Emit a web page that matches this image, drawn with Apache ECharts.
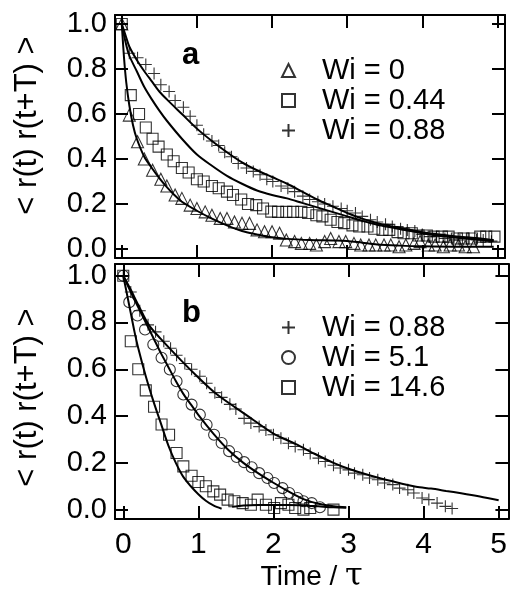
<!DOCTYPE html>
<html lang="en">
<head>
<meta charset="UTF-8">
<title>Correlation</title>
<script src="https://cdn.jsdelivr.net/npm/echarts@6/dist/echarts.min.js"></script>
<style>
    html, body { margin: 0; padding: 0; background: #fff; }
    #main { width: 510px; height: 595px; }
</style>
</head>
<body>
<div id="main"></div>
<script>
// ticks
var xTicks = [0, 1, 2, 3, 4, 5];
var yTicks = [0, 0.2, 0.4, 0.6, 0.8, 1.0];

// panel a: data points [time, corr]
var aWi0 = [[0,1.0],[0.10,0.595],[0.21,0.477],[0.30,0.40],[0.41,0.35],[0.52,0.31],[0.60,0.28],[0.71,0.24],[0.80,0.225],[0.91,0.195],[1.00,0.18],[1.11,0.165],[1.20,0.15],[1.31,0.136],[1.40,0.136],[1.50,0.12],[1.60,0.114],[1.70,0.114],[1.80,0.085],[1.90,0.077],[2.00,0.077],[2.10,0.07],[2.19,0.04],[2.30,0.033],[2.39,0.025],[2.50,0.025],[2.59,0.018],[2.70,0.033],[2.78,0.047],[2.89,0.033],[2.98,0.033],[3.09,0.025],[3.18,0.018],[3.29,0.018],[3.38,0.018],[3.49,0.018],[3.58,0.018],[3.69,0.01],[3.78,0.018],[3.89,0.025],[3.97,0.033],[4.08,0.018],[4.17,0.018],[4.28,0.01],[4.37,0.018],[4.48,0.018],[4.57,0.01],[4.68,0.01]];
var aWi044 = [[0,1.0],[0.12,0.684],[0.23,0.60],[0.32,0.54],[0.41,0.49],[0.49,0.455],[0.60,0.42],[0.69,0.39],[0.80,0.36],[0.89,0.34],[1.00,0.31],[1.09,0.30],[1.20,0.28],[1.29,0.27],[1.40,0.255],[1.48,0.24],[1.59,0.22],[1.68,0.20],[1.79,0.195],[1.88,0.18],[1.99,0.166],[2.08,0.165],[2.19,0.165],[2.28,0.165],[2.39,0.165],[2.48,0.16],[2.59,0.15],[2.67,0.145],[2.78,0.13],[2.87,0.12],[2.96,0.115],[3.07,0.105],[3.16,0.10],[3.27,0.10],[3.36,0.09],[3.47,0.085],[3.56,0.085],[3.67,0.075],[3.75,0.07],[3.86,0.07],[3.95,0.06],[4.06,0.06],[4.15,0.055],[4.26,0.055],[4.35,0.055],[4.46,0.047],[4.55,0.047],[4.66,0.047],[4.77,0.055],[4.85,0.055],[4.96,0.055]];
var aWi088 = [[0,1.0],[0.10,0.87],[0.21,0.85],[0.32,0.82],[0.43,0.78],[0.52,0.73],[0.63,0.70],[0.71,0.66],[0.82,0.63],[0.91,0.59],[1.00,0.55],[1.09,0.51],[1.20,0.48],[1.29,0.46],[1.37,0.43],[1.46,0.41],[1.55,0.38],[1.66,0.36],[1.75,0.345],[1.84,0.33],[1.93,0.31],[2.01,0.30],[2.12,0.28],[2.21,0.27],[2.30,0.255],[2.41,0.235],[2.50,0.22],[2.61,0.21],[2.70,0.20],[2.81,0.19],[2.92,0.18],[3.00,0.17],[3.11,0.16],[3.20,0.145],[3.31,0.13],[3.40,0.12],[3.51,0.11],[3.60,0.10],[3.71,0.09],[3.80,0.085],[3.90,0.08],[4.00,0.065],[4.10,0.055],[4.19,0.055],[4.30,0.047],[4.41,0.04],[4.50,0.04],[4.61,0.047],[4.72,0.04],[4.81,0.04],[4.92,0.035]];

// panel a: fitted curves
var aFit0 = [[0,1],[0.03,0.85],[0.06,0.74],[0.1,0.64],[0.15,0.55],[0.2,0.49],[0.3,0.41],[0.4,0.36],[0.5,0.315],[0.6,0.275],[0.7,0.24],[0.8,0.21],[1.0,0.17],[1.2,0.135],[1.4,0.105],[1.6,0.08],[1.8,0.065],[2.0,0.052],[2.2,0.045],[2.5,0.04],[2.8,0.038],[3.0,0.036],[3.2,0.028],[3.4,0.02],[3.7,0.015],[4.0,0.012],[4.5,0.01],[4.95,0.01]];
var aFit044 = [[0,1],[0.05,0.92],[0.1,0.86],[0.2,0.79],[0.3,0.72],[0.4,0.665],[0.5,0.615],[0.6,0.57],[0.8,0.49],[1.0,0.42],[1.2,0.37],[1.4,0.325],[1.6,0.29],[1.8,0.26],[2.0,0.24],[2.2,0.225],[2.4,0.205],[2.6,0.185],[2.8,0.165],[3.0,0.145],[3.2,0.125],[3.4,0.108],[3.6,0.095],[3.8,0.082],[4.0,0.07],[4.2,0.06],[4.4,0.052],[4.6,0.046],[4.8,0.04],[4.95,0.035]];
var aFit088 = [[0,1],[0.05,0.95],[0.1,0.9],[0.2,0.84],[0.3,0.79],[0.4,0.745],[0.5,0.70],[0.6,0.665],[0.8,0.6],[1.0,0.535],[1.2,0.48],[1.4,0.43],[1.6,0.385],[1.8,0.35],[2.0,0.32],[2.2,0.29],[2.4,0.255],[2.6,0.22],[2.8,0.19],[3.0,0.16],[3.2,0.135],[3.4,0.115],[3.6,0.1],[3.8,0.088],[4.0,0.075],[4.2,0.066],[4.4,0.058],[4.6,0.052],[4.8,0.046],[4.95,0.04]];

// panel b: data points
var bWi088 = [[0,1.0],[0.10,0.93],[0.22,0.85],[0.33,0.79],[0.43,0.76],[0.54,0.72],[0.63,0.69],[0.71,0.66],[0.82,0.625],[0.91,0.60],[1.02,0.57],[1.11,0.54],[1.22,0.50],[1.31,0.48],[1.42,0.45],[1.50,0.43],[1.61,0.39],[1.70,0.37],[1.81,0.355],[1.90,0.34],[2.00,0.32],[2.10,0.305],[2.20,0.284],[2.29,0.27],[2.40,0.256],[2.49,0.24],[2.60,0.22],[2.69,0.206],[2.80,0.19],[2.89,0.178],[3.00,0.17],[3.08,0.156],[3.19,0.149],[3.28,0.135],[3.39,0.128],[3.48,0.114],[3.59,0.107],[3.68,0.092],[3.79,0.085],[3.87,0.071],[3.98,0.05],[4.07,0.043],[4.18,0.028],[4.29,0.014],[4.38,0.005]];
var bWi51 = [[0,1.0],[0.08,0.887],[0.19,0.83],[0.29,0.77],[0.40,0.706],[0.51,0.649],[0.62,0.599],[0.71,0.549],[0.80,0.492],[0.91,0.449],[1.02,0.406],[1.11,0.363],[1.21,0.32],[1.31,0.285],[1.41,0.25],[1.51,0.225],[1.61,0.203],[1.71,0.181],[1.81,0.156],[1.92,0.135],[2.01,0.114],[2.12,0.092],[2.21,0.071],[2.32,0.05],[2.40,0.036],[2.51,0.028],[2.62,0.01]];
var bWi146 = [[0,1.0],[0.10,0.72],[0.20,0.60],[0.30,0.51],[0.41,0.44],[0.51,0.364],[0.61,0.32],[0.71,0.242],[0.80,0.185],[0.91,0.145],[1.00,0.118],[1.10,0.10],[1.20,0.078],[1.29,0.064],[1.39,0.043],[1.48,0.036],[1.59,0.028],[1.70,0.021],[1.79,0.043],[1.90,0.021],[2.01,0.007],[2.10,0.028],[2.20,0.021],[2.29,0.007],[2.40,0.0],[2.49,0.007],[2.80,0.0]];

// panel b: fitted curves
var bFit088 = [[0,1],[0.1,0.94],[0.2,0.875],[0.34,0.79],[0.5,0.73],[0.78,0.635],[1.0,0.565],[1.22,0.5],[1.5,0.435],[1.66,0.4],[2.0,0.325],[2.3,0.28],[2.54,0.24],[2.8,0.2],[3.0,0.175],[3.3,0.145],[3.6,0.12],[3.9,0.098],[4.1,0.09],[4.3,0.08],[4.5,0.07],[4.75,0.056],[5.0,0.04]];
var bFit51 = [[0,1],[0.1,0.93],[0.2,0.865],[0.3,0.8],[0.4,0.735],[0.5,0.67],[0.6,0.61],[0.7,0.55],[0.8,0.495],[0.9,0.45],[1.0,0.405],[1.2,0.325],[1.4,0.255],[1.6,0.2],[1.8,0.155],[2.0,0.115],[2.2,0.078],[2.4,0.045],[2.6,0.025],[2.8,0.014],[2.97,0.01]];
var bFit146a = [[0,1],[0.05,0.92],[0.1,0.84],[0.15,0.76],[0.2,0.69],[0.3,0.57],[0.4,0.465],[0.5,0.37],[0.6,0.275],[0.7,0.2],[0.8,0.14],[0.9,0.1],[1.0,0.066],[1.1,0.038],[1.2,0.018],[1.31,0.004]];
var bFit146b = [[1.45,0.012],[1.6,0.018],[1.8,0.02],[2.0,0.02],[2.2,0.02],[2.4,0.018],[2.6,0.014],[2.8,0.01],[2.97,0.008]];

var FONT = '"Liberation Sans", Arial, Helvetica, sans-serif';
var PLUS = 'path://M0,5L10,5M5,0L5,10';
var hollow = { color: 'rgba(0,0,0,0)', borderColor: '#000', borderWidth: 1.1 };

function xAx(grid, pos, min, max, showLabel, name) {
    return {
        type: 'value', gridIndex: grid, position: pos, min: min, max: max,
        name: name || '', nameLocation: 'middle', nameGap: 42,
        nameTextStyle: { fontSize: 28, color: '#000', fontFamily: FONT,
            rich: { t: { fontSize: 32, fontFamily: '"DejaVu Serif", "Liberation Serif", serif', color: '#000' } } },
        axisLine: { show: true, onZero: false, lineStyle: { color: '#000', width: 2 } },
        axisTick: { show: true, inside: true, length: 13, customValues: xTicks, lineStyle: { color: '#000', width: 2 } },
        axisLabel: { show: showLabel, customValues: xTicks, margin: 11, fontSize: 30, color: '#000', fontFamily: FONT },
        splitLine: { show: false }
    };
}

function yAx(grid, pos, min, max, showLabel, namePad) {
    return {
        type: 'value', gridIndex: grid, position: pos, min: min, max: max,
        name: showLabel ? '< r(t) r(t+T) >' : '', nameLocation: 'middle', nameRotate: 90, nameGap: 72,
        nameTextStyle: { fontSize: 31, color: '#000', fontFamily: FONT, padding: namePad || 0 },
        axisLine: { show: true, onZero: false, lineStyle: { color: '#000', width: 2 } },
        axisTick: { show: true, inside: true, length: 13, customValues: yTicks, lineStyle: { color: '#000', width: 2 } },
        axisLabel: { show: showLabel, customValues: yTicks, margin: 8, fontSize: 29, color: '#000', fontFamily: FONT,
            formatter: function (v) { return v.toFixed(1); } },
        splitLine: { show: false }
    };
}

function pts(name, data, sym, size, xi, yi) {
    return { type: 'scatter', name: name, data: data, symbol: sym, symbolSize: size,
        xAxisIndex: xi, yAxisIndex: yi, itemStyle: hollow, z: 2 };
}

function fit(name, data, xi, yi) {
    return { type: 'line', name: name, data: data, smooth: 0.3, showSymbol: false, symbol: 'none',
        xAxisIndex: xi, yAxisIndex: yi, lineStyle: { color: '#000', width: 2 }, z: 3 };
}

var legendBase = {
    orient: 'vertical', itemWidth: 13, itemHeight: 13, itemGap: 1, selectedMode: false,
    textStyle: { fontSize: 29, color: '#000', fontFamily: FONT, padding: [0, 0, 0, 22] }
};

var chart = echarts.init(document.getElementById('main'));
chart.setOption({
    animation: false,
    backgroundColor: '#fff',
    grid: [
        { left: 115, top: 15, width: 390, height: 243 },
        { left: 115, top: 264, width: 397, height: 255 }
    ],
    xAxis: [
        xAx(0, 'bottom', -0.09, 5.1, false),
        xAx(0, 'top', -0.09, 5.1, false),
        xAx(1, 'bottom', -0.11, 5.13, true, 'Time / {t|τ}'),
        xAx(1, 'top', -0.11, 5.13, false)
    ],
    yAxis: [
        yAx(0, 'left', -0.04, 1.04, true, [0, 0, 0, 22]),
        yAx(0, 'right', -0.04, 1.04, false),
        yAx(1, 'left', -0.04, 1.05, true, [0, 12, 0, 0]),
        yAx(1, 'right', -0.04, 1.05, false)
    ],
    legend: [
        Object.assign({}, legendBase, { left: 276, top: 51, data: ['Wi = 0', 'Wi = 0.44', 'Wi = 0.88'] }),
        Object.assign({}, legendBase, { left: 276, top: 308, data: ['Wi = 0.88', 'Wi = 5.1', 'Wi = 14.6'] })
    ],
    graphic: [
        { type: 'text', left: 182, top: 40, style: { text: 'a', font: 'bold 31px ' + FONT, fill: '#000' } },
        { type: 'text', left: 182, top: 298, style: { text: 'b', font: 'bold 31px ' + FONT, fill: '#000' } }
    ],
    series: [
        pts('Wi = 0', aWi0, 'triangle', 12, 0, 0),
        pts('Wi = 0.44', aWi044, 'rect', 11, 0, 0),
        pts('Wi = 0.88', aWi088, PLUS, 12, 0, 0),
        fit('fit a0', aFit0, 0, 0),
        fit('fit a044', aFit044, 0, 0),
        fit('fit a088', aFit088, 0, 0),
        pts('Wi = 0.88', bWi088, PLUS, 12, 2, 2),
        pts('Wi = 5.1', bWi51, 'circle', 11, 2, 2),
        pts('Wi = 14.6', bWi146, 'rect', 11, 2, 2),
        fit('fit b088', bFit088, 2, 2),
        fit('fit b51', bFit51, 2, 2),
        fit('fit b146a', bFit146a, 2, 2),
        fit('fit b146b', bFit146b, 2, 2)
    ]
});
</script>
</body>
</html>
